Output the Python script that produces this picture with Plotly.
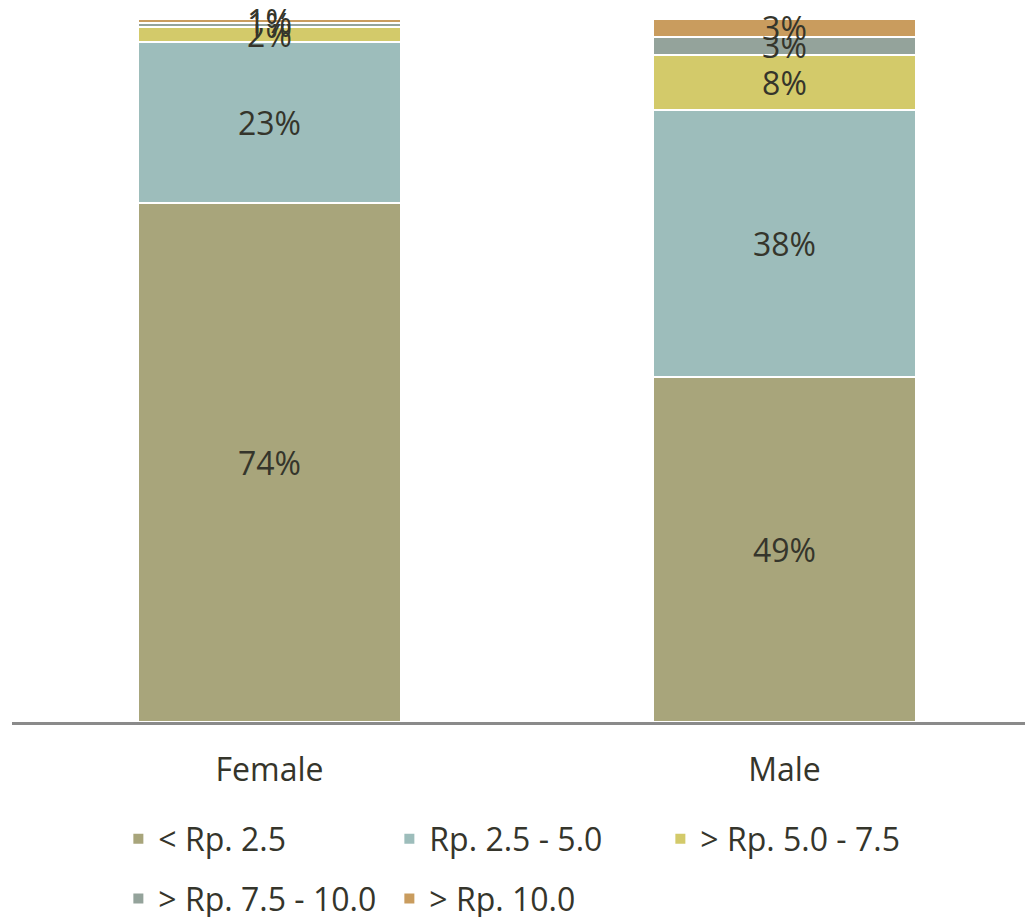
import plotly.graph_objects as go

categories = ["Female", "Male"]
series_names = ["< Rp. 2.5", "Rp. 2.5 - 5.0", "> Rp. 5.0 - 7.5", "> Rp. 7.5 - 10.0", "> Rp. 10.0"]
lt_2_5 = [0.738, 0.491]
r2_5_5 = [0.230, 0.380]
r5_7_5 = [0.021, 0.078]
r7_5_10 = [0.006, 0.026]
gt_10 = [0.005, 0.025]
series_values = [lt_2_5, r2_5_5, r5_7_5, r7_5_10, gt_10]
colors = ["#A8A57B", "#9DBDBB", "#D3CA6A", "#94A39B", "#C99C5E"]

FONT = "Open Sans"
TXT = "#35352b"
FS = 32

fig = go.Figure()
for i, (name, vals, col) in enumerate(zip(series_names, series_values, colors)):
    fig.add_trace(go.Bar(
        x=categories, y=vals, name=name,
        marker=dict(color=col, line=dict(color="white", width=2)),
        width=0.51,
        text=vals, texttemplate="%{y:.0%}",
        textposition="inside", insidetextanchor="middle",
        textfont=dict(family=FONT, size=FS, color=TXT),
        cliponaxis=False,
        legend="legend" if i < 3 else "legend2",
    ))

leg_common = dict(orientation="h", xanchor="left", yanchor="top", yref="container",
                  traceorder="normal", entrywidth=226, entrywidthmode="pixels",
                  font=dict(family=FONT, size=FS, color=TXT), bgcolor="rgba(0,0,0,0)")

fig.update_layout(
    barmode="stack",
    width=1025, height=917,
    margin=dict(l=12, r=0, t=19, b=195, autoexpand=False),
    paper_bgcolor="white", plot_bgcolor="white",
    uniformtext=dict(minsize=FS, mode="show"),
    font=dict(family=FONT, size=FS, color=TXT),
    xaxis=dict(range=[-0.5, 1.467], showline=True, linecolor="#8a8a8a", linewidth=2.5,
               showgrid=False, ticks="", tickfont=dict(family=FONT, size=FS, color=TXT),
               ticklabelstandoff=18),
    yaxis=dict(range=[0, 1], visible=False, showgrid=False),
    legend=dict(leg_common, x=0.105, y=0.115),
    legend2=dict(leg_common, x=0.105, y=0.05),
    showlegend=True,
)

fig.write_html("out.html")
